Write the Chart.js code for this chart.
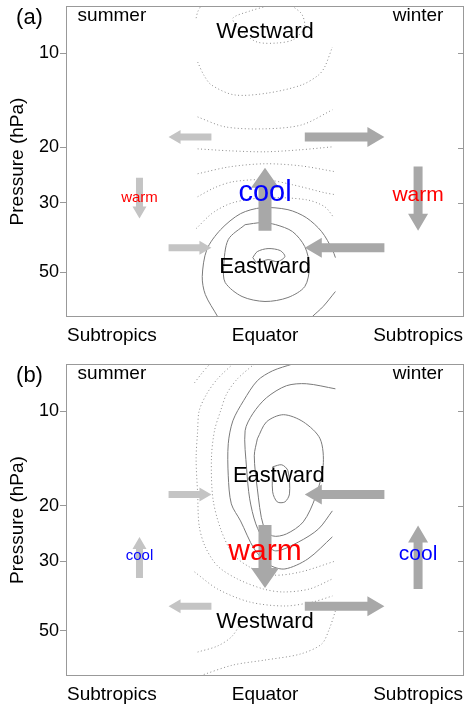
<!DOCTYPE html>
<html>
<head>
<meta charset="utf-8">
<script src="https://cdn.jsdelivr.net/npm/chart.js@4.4.1/dist/chart.umd.min.js"></script>
<style>
    html, body { margin: 0; padding: 0; background: #fff; }
    #wrap { position: relative; width: 465px; height: 709px; }
    .painel { position: absolute; left: 0; width: 465px; }
</style>
</head>
<body>
<div id="wrap">
    <div class="painel" style="top:0;height:352px"><canvas id="grafA" width="465" height="352"></canvas></div>
    <div class="painel" style="top:358px;height:351px"><canvas id="grafB" width="465" height="351"></canvas></div>
</div>
<script>
// EIXOS
var categorias = ['Subtropics', 'Equator', 'Subtropics'];
var posCategorias = [-1, 0, 1];
var pressaoTicks = [10, 20, 30, 50];
var pressaoMin = 7.06;
var pressaoMax = 69.6;

// PAINEL (a) - contornos [x, hPa]
var oesteA = [
    [[-0.45, 7.72], [-0.44, 7.38], [-0.42, 7.07]],
    [[0.01, 7.07], [-0.10, 7.33], [-0.21, 7.72], [-0.18, 8.24], [-0.14, 8.62], [-0.05, 9.21], [0.08, 9.27], [0.18, 9.07], [0.24, 8.55], [0.26, 8.12], [0.24, 7.49], [0.18, 7.07]],
    [[-0.44, 10.66], [-0.40, 11.73], [-0.35, 12.62], [-0.20, 13.58], [0.02, 13.39], [0.24, 12.62], [0.35, 11.73], [0.39, 11.06], [0.44, 9.55]],
    [[-0.44, 15.97], [-0.26, 17.18], [0, 17.43], [0.24, 16.93], [0.44, 15.16]],
    [[-0.44, 20.2], [-0.23, 20.49], [0, 20.64], [0.23, 20.34], [0.44, 19.9]],
    [[-0.44, 24.26], [-0.23, 23.05], [0, 22.54], [0.23, 22.88], [0.46, 23.9]],
    [[-0.44, 28.72], [-0.33, 26.89], [-0.21, 25.73], [0, 25.35], [0.18, 26.3], [0.39, 27.9], [0.46, 28.3]],
    [[-0.45, 36.33], [-0.34, 32.31], [-0.21, 30.02], [0, 28.93], [0.27, 29.37], [0.39, 30.92], [0.45, 33.51]]
];
var lesteA = [
    [[-0.31, 69.3], [-0.39, 58.98], [-0.41, 51.69], [-0.38, 42.38], [-0.29, 36.6], [-0.16, 32.54], [-0.02, 31.14], [0.15, 31.6], [0.27, 33.51], [0.37, 37.14], [0.44, 42.38], [0.46, 44.96]],
    [[0.46, 57.7], [0.38, 64.42], [0.31, 69.3]],
    [[-0.13, 35.28], [-0.24, 39.38], [-0.27, 48.03], [-0.26, 54.01], [-0.15, 59.86], [0, 62.09], [0.15, 60.3], [0.26, 55.62], [0.29, 48.03], [0.26, 41.47], [0.18, 37.14], [0.07, 35.28], [-0.02, 34.76], [-0.13, 35.28]],
    [[-0.08, 44.96], [-0.05, 43.01], [0.02, 42.07], [0.10, 42.7], [0.13, 44.63], [0.08, 46.3], [0.02, 45.62], [-0.05, 46.67], [-0.08, 44.96]]
];
// setas [x0, p0, x1, p1] (cauda -> ponta)
var setasClarasA = [[-0.35, 18.5, -0.63, 18.5], [-0.63, 41.8, -0.35, 41.8], [-0.82, 25.0, -0.82, 33.7]];
var setasEscurasA = [[0.26, 18.5, 0.78, 18.5], [0.78, 41.8, 0.26, 41.8], [1.0, 23.0, 1.0, 36.9]];
var setaCentralA = [[0, 36.9, 0, 23.2]];
var rotulosA = [['Westward', 0, 8.55], ['Eastward', 0, 48.0], ['cool', 0, 27.9], ['warm', 1.0, 28.5], ['warm', -0.82, 28.9], ['summer', -1, 7.6], ['winter', 1, 7.6]];

// PAINEL (b)
var oesteB = [
    [[-0.46, 8.10], [-0.41, 7.53], [-0.36, 7.06]],
    [[-0.21, 7.06], [-0.31, 7.87], [-0.38, 8.78], [-0.43, 9.95], [-0.44, 11.52], [-0.45, 14.15], [-0.44, 18.3], [-0.43, 23.15], [-0.39, 27.01], [-0.31, 31.05], [-0.18, 34.16], [-0.01, 36.77], [0.12, 37.58], [0.29, 36.77], [0.44, 34.16]],
    [[-0.07, 7.06], [-0.18, 7.87], [-0.25, 8.78], [-0.29, 9.95], [-0.33, 11.52], [-0.35, 14.15], [-0.34, 18.98], [-0.29, 23.66], [-0.21, 28.43], [-0.10, 31.3], [0.05, 33.19], [0.23, 32.47], [0.46, 29.95]],
    [[-0.46, 32.45], [-0.31, 36.77], [-0.10, 40.45], [0.13, 41.65], [0.31, 40.45], [0.44, 38.71]],
    [[-0.44, 58.39], [-0.31, 55.86], [-0.22, 52.29], [-0.16, 47.53]],
    [[0.46, 43.2], [0.42, 49.31], [0.37, 55.05], [0.23, 59.26], [0, 61.92], [-0.21, 64.24], [-0.41, 69.1]]
];
var lesteB = [
    [[0.18, 7.06], [0.05, 7.42], [-0.05, 7.98], [-0.14, 9.24], [-0.21, 10.71], [-0.24, 12.67], [-0.24, 16.03], [-0.22, 19.69], [-0.16, 22.31], [-0.07, 27.41], [0.03, 30.82], [0.13, 31.74], [0.28, 29.49], [0.44, 25.09]],
    [[0.46, 8.47], [0.27, 8.16], [0.14, 8.28], [0.01, 9.04], [-0.08, 10.17], [-0.13, 11.52], [-0.12, 15.23], [-0.10, 18.98], [-0.06, 22.81], [0, 26.03], [0.07, 27.81], [0.22, 26.03], [0.35, 23.66], [0.44, 20.73]],
    [[-0.05, 12.22], [0.01, 10.79], [0.12, 10.24], [0.25, 10.79], [0.36, 12.22], [0.38, 14.9], [0.33, 18.71], [0.25, 22.47], [0.14, 24.55], [0.05, 24.91], [-0.01, 23.15], [-0.05, 17.64], [-0.07, 13.84], [-0.05, 12.22]],
    [[0.05, 15.01], [0.11, 14.79], [0.15, 15.46], [0.16, 18.3], [0.13, 19.41], [0.08, 19.41], [0.05, 18.03], [0.05, 15.01]]
];
var setasClarasB = [[-0.63, 18.4, -0.35, 18.4], [-0.35, 41.7, -0.63, 41.7], [-0.82, 33.9, -0.82, 25.1]];
var setasEscurasB = [[0.78, 18.4, 0.26, 18.4], [0.26, 41.7, 0.78, 41.7], [1.0, 36.8, 1.0, 23.1]];
var setaCentralB = [[0, 23.0, 0, 36.5]];
var rotulosB = [['Eastward', 0.09, 16.03], ['Westward', 0, 46.85], ['warm', 0, 28.0], ['cool', 1.0, 28.4], ['cool', -0.82, 28.8], ['summer', -1, 7.6], ['winter', 1, 7.6]];

// estilos (tamanho da fonte, cor) na mesma ordem dos rotulos
var estilosA = [[22, '#000'], [22, '#000'], [29, '#0000ff'], [21, '#ff0000'], [15, '#ff0000'], [19, '#000'], [19, '#000']];
var estilosB = [[22, '#000'], [22, '#000'], [30, '#ff0000'], [21, '#0000ff'], [15, '#0000ff'], [19, '#000'], [19, '#000']];

var FONTE = "'Liberation Sans', Arial, sans-serif";
Chart.defaults.font.family = FONTE;

var setaClara = { haste: 7, largura: 14, cabeca: 12, cor: '#c4c4c4' };
var setaEscura = { haste: 9, largura: 20, cabeca: 17, cor: '#a8a8a8' };
var setaGrande = { haste: 13, largura: 28, cabeca: 20, cor: '#a8a8a8' };

function desenharSeta(ctx, x0, y0, x1, y1, est) {
    var dx = x1 - x0, dy = y1 - y0;
    var len = Math.hypot(dx, dy);
    var ux = dx / len, uy = dy / len;
    var nx = -uy, ny = ux;
    var bx = x1 - ux * est.cabeca, by = y1 - uy * est.cabeca;
    var w = est.haste / 2, h = est.largura / 2;
    ctx.beginPath();
    ctx.moveTo(x0 + nx * w, y0 + ny * w);
    ctx.lineTo(bx + nx * w, by + ny * w);
    ctx.lineTo(bx + nx * h, by + ny * h);
    ctx.lineTo(x1, y1);
    ctx.lineTo(bx - nx * h, by - ny * h);
    ctx.lineTo(bx - nx * w, by - ny * w);
    ctx.lineTo(x0 - nx * w, y0 - ny * w);
    ctx.closePath();
    ctx.fillStyle = est.cor;
    ctx.fill();
}

function contornos(lista, tracejado) {
    return lista.map(function (c) {
        return {
            data: c.map(function (p) { return { x: p[0], y: p[1] }; }),
            showLine: true,
            borderColor: tracejado ? '#8a8a8a' : '#7a7a7a',
            borderWidth: 1,
            borderDash: tracejado ? [1, 2.5] : [],
            pointRadius: 0,
            tension: 0.3,
            fill: false
        };
    });
}

// tira o padding que o Chart.js reserva para os rotulos
function semPadding(s) {
    s.paddingTop = 0;
    s.paddingBottom = 0;
    s.paddingLeft = 0;
    s.paddingRight = 0;
}

function montarPainel(id, letra, alturaX, oeste, leste, claras, escuras, central, rotulos, estilos) {
    var ctx = document.getElementById(id).getContext('2d');

    var extras = {
        id: 'extras' + letra,
        afterDatasetsDraw: function (chart) {
            var c = chart.ctx, sx = chart.scales.x, sy = chart.scales.y;
            function seta(lista, est) {
                lista.forEach(function (s) {
                    desenharSeta(c, sx.getPixelForValue(s[0]), sy.getPixelForValue(s[1]),
                        sx.getPixelForValue(s[2]), sy.getPixelForValue(s[3]), est);
                });
            }
            c.save();
            seta(claras, setaClara);
            seta(escuras, setaEscura);
            seta(central, setaGrande);
            c.textAlign = 'center';
            c.textBaseline = 'middle';
            rotulos.forEach(function (r, i) {
                c.font = estilos[i][0] + 'px ' + FONTE;
                c.fillStyle = estilos[i][1];
                c.fillText(r[0], sx.getPixelForValue(r[1]), sy.getPixelForValue(r[2]));
            });
            c.restore();
        },
        afterDraw: function (chart) {
            var c = chart.ctx, a = chart.chartArea, sy = chart.scales.y;
            c.save();
            c.strokeStyle = '#999';
            c.lineWidth = 1;
            c.strokeRect(a.left + 0.5, a.top + 0.5, a.right - a.left - 1, a.bottom - a.top - 1);
            // ticks internos do lado direito
            pressaoTicks.forEach(function (v) {
                var y = Math.round(sy.getPixelForValue(v)) + 0.5;
                c.beginPath();
                c.moveTo(a.right - 6, y);
                c.lineTo(a.right, y);
                c.stroke();
            });
            c.fillStyle = '#000';
            c.font = '22px ' + FONTE;
            c.textAlign = 'center';
            c.textBaseline = 'middle';
            c.fillText('(' + letra + ')', a.left - 36.5, a.top + 12);
            c.restore();
        }
    };

    return new Chart(ctx, {
        type: 'scatter',
        data: { datasets: contornos(oeste, true).concat(contornos(leste, false)) },
        options: {
            responsive: false,
            animation: false,
            layout: { padding: { top: 6, right: 1, left: 0, bottom: 0 } },
            plugins: { legend: { display: false }, tooltip: { enabled: false } },
            scales: {
                x: {
                    type: 'linear',
                    min: -1.3,
                    max: 1.3,
                    afterBuildTicks: function (s) { s.ticks = posCategorias.map(function (v) { return { value: v }; }); },
                    afterFit: function (s) { s.height = alturaX; semPadding(s); },
                    ticks: {
                        callback: function (v, i) { return categorias[i]; },
                        color: '#000',
                        font: { size: 19 },
                        padding: 7,
                        maxRotation: 0,
                        autoSkip: false
                    },
                    grid: { display: false, drawTicks: false },
                    border: { display: false }
                },
                y: {
                    type: 'logarithmic',
                    reverse: true,
                    min: pressaoMin,
                    max: pressaoMax,
                    afterBuildTicks: function (s) { s.ticks = pressaoTicks.map(function (v) { return { value: v }; }); },
                    afterFit: function (s) { s.width = 66; semPadding(s); },
                    ticks: {
                        callback: function (v) { return String(v); },
                        color: '#000',
                        font: { size: 18 },
                        padding: 1,
                        autoSkip: false
                    },
                    grid: { drawOnChartArea: false, drawTicks: true, tickLength: 6, color: '#999' },
                    border: { display: false },
                    title: {
                        display: true,
                        text: 'Pressure (hPa)',
                        color: '#000',
                        font: { size: 19 },
                        padding: { top: 6, bottom: 0 }
                    }
                }
            }
        },
        plugins: [extras]
    });
}

montarPainel('grafA', 'a', 35, oesteA, lesteA, setasClarasA, setasEscurasA, setaCentralA, rotulosA, estilosA);
montarPainel('grafB', 'b', 33, oesteB, lesteB, setasClarasB, setasEscurasB, setaCentralB, rotulosB, estilosB);
</script>
</body>
</html>
